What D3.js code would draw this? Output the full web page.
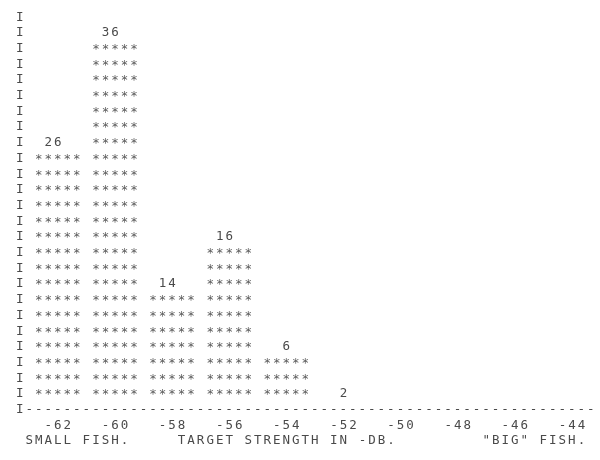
<!DOCTYPE html>
<meta charset="utf-8">
<html>
<script src="https://d3js.org/d3.v7.min.js"></script>
<style>
  body { margin: 0; background: #fff; }
  svg { filter: grayscale(1); }
  text { font-family: "DejaVu Sans Mono", monospace; font-size: 12.5px; fill: #4a4a4a; }
  text.star { fill: #5a5a5a; }
</style>
<div id="chart"></div>
<script>

// histogram
var bins = [-62, -60, -58, -56, -54, -52];
var counts = [26, 36, 14, 16, 6, 2];
var lines = [16, 23, 7, 10, 3, 0];   // printed bar length, in lines of "*****"
var ticks = [-62, -60, -58, -56, -54, -52, -50, -48, -46, -44];
var captions = ["SMALL FISH.", "TARGET STRENGTH IN -DB.", "\"BIG\" FISH."];

var width = 600, height = 460;
var cw = 9.52;        // printer character pitch
var nRows = 25;       // lines above the axis
var capCols = [1, 17, 49];

// char column -> px (left edge of cell), dB -> char column, line -> px (centre)
var col = d3.scaleLinear().domain([0, 1]).range([15, 15 + cw]);
var bin = d3.scaleLinear().domain([-62, -44]).range([2, 56]);
var row = d3.scaleLinear().domain([0, 1]).range([16, 31.7]);

var svg = d3.select("#chart")
  .append("svg")
    .attr("width", width)
    .attr("height", height);

svg.append("rect")
    .attr("width", width)
    .attr("height", height)
    .attr("fill", "#fff");

function put(txt, c, r, cls) {
  svg.append("text")
    .attr("class", cls || null)
    .attr("x", col(c) + 1)
    .attr("y", row(r) + (cls == "star" ? 5.5 : 4.5))
    .style("letter-spacing", (cw - 7.53) + "px")
    .text(txt);
}

// left margin I's
d3.range(0, nRows + 1).forEach(function(r) { put("I", 0, r); });

// bars of stars with the count on top
bins.forEach(function(b, i) {
  var c = bin(b);
  d3.range(nRows - lines[i], nRows).forEach(function(r) { put("*****", c, r, "star"); });
  var s = String(counts[i]);
  put(s, c + 3 - s.length, nRows - 1 - lines[i]);
});

// axis line
put(d3.range(60).map(function() { return "-"; }).join(""), 1, nRows);

// tick labels, one column in from the bar start
ticks.forEach(function(t) { put(String(t), bin(t) + 1, nRows + 1); });

// captions
captions.forEach(function(s, i) { put(s, capCols[i], nRows + 2); });

</script>
</html>
